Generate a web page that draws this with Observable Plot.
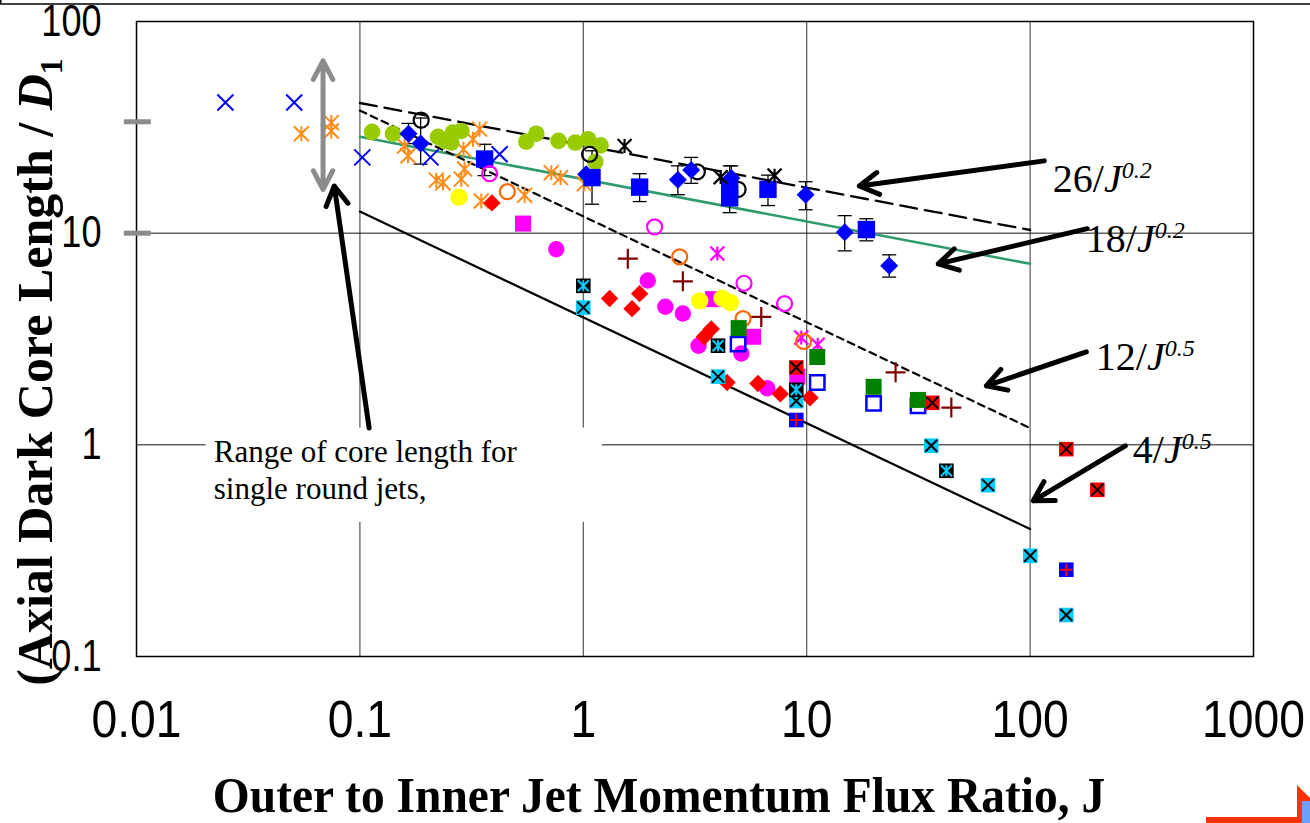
<!DOCTYPE html>
<html>
<head>
<meta charset="utf-8">
<script src="https://cdn.jsdelivr.net/npm/d3@7"></script>
<script src="https://cdn.jsdelivr.net/npm/@observablehq/plot@0.6"></script>
<style>
  html, body { margin: 0; padding: 0; background: #fff; }
  #chart svg { display: block; }
</style>
</head>
<body>
<div id="chart"></div>
<script>
// ---------- axis ticks ----------
const xTicks = [0.01, 0.1, 1, 10, 100, 1000];
const xTickLabels = ["0.01", "0.1", "1", "10", "100", "1000"];
const yTicks = [0.1, 1, 10, 100];
const yTickLabels = ["0.1", "1", "10", "100"];
const gridX = [0.1, 1, 10, 100];
const gridY = [1, 10];

// ---------- correlations  L/D1 = a / J^b ----------
const fitCoef = [26, 18, 12, 4];
const fitExp = [0.2, 0.2, 0.5, 0.5];
const fitRange = [0.1, 100];

// ---------- data series  [J, L/D1] ----------
const blueCross = [[0.025, 41.4], [0.0508, 41.4], [0.1025, 22.8], [0.207, 22.8], [0.422, 23.6]];
const orangeStar = [[0.0547, 29.5], [0.0745, 33.3], [0.0745, 30.4], [0.1585, 25.8], [0.1642, 23.2],
  [0.2198, 17.8], [0.2355, 17.3], [0.2844, 18.0], [0.294, 20.1], [0.291, 24.9], [0.3208, 27.8],
  [0.3434, 31.0], [0.3495, 14.2], [0.546, 15.1], [0.719, 19.3], [0.791, 18.3], [1.01, 17.1]];
const limeDot = [[0.1133, 30.1], [0.1406, 29.5], [0.2237, 28.5], [0.2394, 27.3], [0.261, 29.9],
  [0.2844, 30.4], [0.2566, 26.8], [0.5557, 27.1], [0.6163, 29.5], [0.775, 27.3], [0.921, 26.8],
  [1.05, 27.8], [1.195, 26.0], [1.132, 21.7]];
// [J, L, low, high]
const blueDiamond = [[0.165, 29.5, 26.5, 33], [0.187, 26.5, 21.2, 35], [1.03, 19.0, null, null],
  [2.65, 17.9, 15.2, 20.8], [3.04, 19.9, 17.2, 22.8], [4.60, 18.2, 16.5, 20.8], [9.89, 15.2, 12.9, 17.5],
  [14.8, 10.1, 8.25, 12.1], [23.4, 7.01, 6.2, 7.9]];
const blueSquare = [[0.3616, 22.4, 18.7, 26.3], [1.094, 18.3, 13.7, 24.5], [1.787, 16.5, 14.1, 19.1],
  [4.52, 14.7, 12.5, 20.8], [4.52, 16.7, null, null], [6.71, 16.1, 13.5, 18.8], [18.5, 10.4, 9.2, 11.7]];
const blackRing = [[0.188, 34.2], [1.067, 23.6], [3.24, 19.5], [4.93, 16.1]];
const blackStar = [[1.53, 25.8], [4.12, 18.4], [7.18, 18.7]];
const magentaRing = [[0.3807, 19.1], [2.085, 10.7], [5.24, 5.80], [7.96, 4.65]];
const magentaStar = [[3.98, 8.01], [9.46, 3.21], [11.2, 2.97]];
const orangeRing = [[0.457, 15.7], [2.70, 7.73], [5.19, 3.95], [9.69, 3.08]];
const pinkSquare = [[0.537, 11.1], [3.81, 4.88], [5.75, 3.24], [9.08, 2.10]];
const magentaDot = [[0.757, 8.40], [1.944, 5.98], [2.33, 4.49], [2.79, 4.17], [3.28, 2.94], [5.10, 2.70], [6.66, 1.85]];
const yellowDot = [[0.2778, 14.8], [3.32, 4.79], [4.18, 4.93], [4.56, 4.70]];
const redDiamond = [[0.390, 13.9], [1.311, 4.91], [1.787, 5.18], [1.652, 4.40], [3.48, 3.24], [3.74, 3.53],
  [4.40, 1.97], [6.05, 1.95], [7.62, 1.74], [10.35, 1.67]];
const maroonPlus = [[1.582, 7.58], [2.79, 5.92], [6.26, 4.02], [25.0, 2.20], [44.4, 1.50]];
const greenSquare = [[4.96, 3.56], [11.15, 2.60], [19.93, 1.88], [31.5, 1.63]];
const blueOpenSquare = [[4.93, 2.99], [11.15, 1.97], [19.93, 1.57], [31.5, 1.53]];
const cyanCross = [[1.0, 4.45], [4.01, 2.10], [8.98, 1.61], [36.1, 0.99], [64.8, 0.645], [100.2, 0.299], [145.2, 0.157]];
const blackCyanStar = [[1.0, 5.64], [4.01, 2.94], [8.98, 1.82], [42.2, 0.754]];
const redCross = [[8.98, 2.32], [36.5, 1.58], [145.2, 0.954], [200, 0.613]];
const bluePlus = [[8.98, 1.31], [145.2, 0.257]];

// single round jet core-length range
const singleJetJ = [0.0684];
const singleJetRange = [16.1, 65.2];
const singleJetMarks = [33.6, 10];

// ---------- annotations (data coordinates) ----------
const fitLabelAt = [[127, 15.5], [178.5, 8.07], [197.8, 2.24], [289.7, 0.813]];
const fitArrowFrom = [[115.8, 21.96], [180.3, 10.5], [178.5, 2.75], [266.8, 0.989]];
const fitArrowTo = [[17.2, 16.7], [38.8, 7.16], [63.7, 1.90], [103.3, 0.544]];
const noteLines = ["Range of core length for", "single round jets,"];
const noteAt = [[0.0223, 0.822], [0.0223, 0.55]];
const noteBoxJ = [0.0205, 1.216];
const noteBoxL = [0.43, 1.2];
const noteArrowFrom = [0.110, 1.20];
const noteArrowTo = [0.0768, 16.7];
const xTitle = "Outer to Inner Jet Momentum Flux Ratio, J";

// ---------- symbols ----------
const rr = s => Math.sqrt(s / Math.PI);
const sym = {
  square: {draw(c, s) { const r = rr(s); c.rect(-r, -r, 2 * r, 2 * r); }},
  diamond: {draw(c, s) { const r = rr(s); c.moveTo(0, -r); c.lineTo(r, 0); c.lineTo(0, r); c.lineTo(-r, 0); c.closePath(); }},
  cross: {draw(c, s) { const r = rr(s); c.moveTo(-r, -r); c.lineTo(r, r); c.moveTo(-r, r); c.lineTo(r, -r); }},
  star: {draw(c, s) { const r = rr(s); c.moveTo(-r, -r); c.lineTo(r, r); c.moveTo(-r, r); c.lineTo(r, -r); c.moveTo(0, -r); c.lineTo(0, r); }},
  plus: {draw(c, s) { const r = rr(s); c.moveTo(-r, 0); c.lineTo(r, 0); c.moveTo(0, -r); c.lineTo(0, r); }},
  cap: {draw(c, s) { const r = rr(s); c.moveTo(-r, 0); c.lineTo(r, 0); }}
};
const X = d => d[0], Y = d => d[1];
const dot = (data, o) => Plot.dot(data, {x: X, y: Y, fill: "none", stroke: "none", ...o});

const fitLines = fitCoef.map((a, i) => fitRange.map(J => ({J, L: a / Math.pow(J, fitExp[i])})));
const bars = [...blueDiamond, ...blueSquare].filter(d => d[2] != null);
const fitArrows = fitArrowFrom.map((f, i) => ({x1: f[0], y1: f[1], x2: fitArrowTo[i][0], y2: fitArrowTo[i][1]}));
const rangeArrows = [
  {x1: singleJetJ[0], y1: Math.sqrt(singleJetRange[0] * singleJetRange[1]), x2: singleJetJ[0], y2: singleJetRange[1]},
  {x1: singleJetJ[0], y1: Math.sqrt(singleJetRange[0] * singleJetRange[1]), x2: singleJetJ[0], y2: singleJetRange[0]}
];

const plot = Plot.plot({
  width: 1310,
  height: 823,
  marginLeft: 136,
  marginRight: 57,
  marginTop: 21,
  marginBottom: 167,
  x: {type: "log", domain: [0.01, 1000]},
  y: {type: "log", domain: [0.1, 100]},
  style: {fontFamily: "Liberation Sans", background: "white", overflow: "visible"},
  marks: [
    Plot.ruleX(gridX, {stroke: "#555", strokeWidth: 1.2}),
    Plot.ruleY(gridY, {stroke: "#111", strokeWidth: 1}),
    Plot.rect([0], {x1: noteBoxJ[0], x2: noteBoxJ[1], y1: noteBoxL[0], y2: noteBoxL[1], fill: "white"}),
    Plot.line(fitLines[0], {x: "J", y: "L", stroke: "black", strokeWidth: 2.3, strokeDasharray: "17,8"}),
    Plot.line(fitLines[1], {x: "J", y: "L", stroke: "#2f9a6c", strokeWidth: 2.5}),
    Plot.line(fitLines[2], {x: "J", y: "L", stroke: "black", strokeWidth: 2.2, strokeDasharray: "7,5"}),
    Plot.line(fitLines[3], {x: "J", y: "L", stroke: "black", strokeWidth: 2.2}),
    Plot.ruleX(bars, {x: X, y1: d => d[2], y2: d => d[3], stroke: "black", strokeWidth: 1.3}),
    dot(bars, {y: d => d[2], symbol: sym.cap, r: 7, stroke: "black", strokeWidth: 1.3}),
    dot(bars, {y: d => d[3], symbol: sym.cap, r: 7, stroke: "black", strokeWidth: 1.3}),
    dot(orangeStar, {symbol: sym.star, r: 7.5, stroke: "#ff8c1a", strokeWidth: 2}),
    dot(blueCross, {symbol: sym.cross, r: 8, stroke: "#0000ff", strokeWidth: 2}),
    dot(limeDot, {symbol: "circle", r: 8.3, fill: "#99cc00"}),
    dot(blackRing, {symbol: "circle", r: 7.5, stroke: "black", strokeWidth: 2.2}),
    dot(blueDiamond, {symbol: sym.diamond, r: 9, fill: "#0000ff"}),
    dot(blueSquare, {symbol: sym.square, r: 8.7, fill: "#0000ff"}),
    dot(blackStar, {symbol: sym.star, r: 7, stroke: "black", strokeWidth: 2.2}),
    dot(magentaRing, {symbol: "circle", r: 7.5, stroke: "#ff00ff", strokeWidth: 2.2}),
    dot(magentaStar, {symbol: sym.star, r: 7, stroke: "#ff00ff", strokeWidth: 2.2}),
    dot(orangeRing, {symbol: "circle", r: 7.5, stroke: "#ff6600", strokeWidth: 2.2}),
    dot(pinkSquare, {symbol: sym.square, r: 8, fill: "#ff00ff"}),
    dot(magentaDot, {symbol: "circle", r: 8.2, fill: "#ff00ff"}),
    dot(yellowDot, {symbol: "circle", r: 8.7, fill: "#ffff00"}),
    dot(redDiamond, {symbol: sym.diamond, r: 8.7, fill: "#ff0000"}),
    dot(maroonPlus, {symbol: sym.plus, r: 10, stroke: "#800000", strokeWidth: 2.2}),
    dot(blueOpenSquare, {symbol: sym.square, r: 7.2, stroke: "#0000ff", strokeWidth: 2.5}),
    dot(greenSquare, {symbol: sym.square, r: 8, fill: "#008000"}),
    dot(cyanCross, {symbol: sym.square, r: 7.3, fill: "#00ccff"}),
    dot(cyanCross, {symbol: sym.cross, r: 6, stroke: "black", strokeWidth: 2}),
    dot(blackCyanStar, {symbol: sym.square, r: 7.3, fill: "black"}),
    dot(blackCyanStar, {symbol: sym.star, r: 5.5, stroke: "#00ccff", strokeWidth: 2}),
    dot(redCross, {symbol: sym.square, r: 7.3, fill: "#ff0000"}),
    dot(redCross, {symbol: sym.cross, r: 6, stroke: "black", strokeWidth: 2}),
    dot(bluePlus, {symbol: sym.square, r: 7.3, fill: "#0000ff"}),
    dot(bluePlus, {symbol: sym.plus, r: 6.3, stroke: "#ff0000", strokeWidth: 2}),
    Plot.arrow(rangeArrows, {x1: "x1", y1: "y1", x2: "x2", y2: "y2", stroke: "#8c8c8c", strokeWidth: 5, headLength: 6.3, headAngle: 55}),
    Plot.arrow(fitArrows, {x1: "x1", y1: "y1", x2: "x2", y2: "y2", stroke: "black", strokeWidth: 5, headLength: 6.6, headAngle: 60}),
    Plot.arrow([0], {x1: noteArrowFrom[0], y1: noteArrowFrom[1], x2: noteArrowTo[0], y2: noteArrowTo[1], stroke: "black", strokeWidth: 5, headLength: 6.6, headAngle: 60}),
    Plot.frame({stroke: "black", strokeWidth: 1.5}),
    Plot.ruleY(singleJetMarks, {x1: 0.00882, x2: 0.01165, stroke: "#8c8c8c", strokeWidth: 5}),
    Plot.axisX(xTicks, {tickSize: 0, tickPadding: 44, fontSize: 52, fontFamily: "Liberation Sans", tickFormat: d => xTickLabels[xTicks.indexOf(d)], label: null}),
    Plot.axisY(yTicks, {tickSize: 0, tickPadding: 35, fontSize: 44, fontFamily: "Liberation Sans", tickFormat: d => yTickLabels[yTicks.indexOf(d)], label: null})
  ]
});

document.getElementById("chart").append(plot);

const svg = d3.select(plot);
const squeeze = (sel, k) => sel.each(function () {
  const t = this.getAttribute("transform") || "";
  this.setAttribute("transform", t + ` scale(${k},1)`);
});
squeeze(svg.selectAll('g[aria-label="x-axis tick label"] text'), 0.89);
squeeze(svg.selectAll('g[aria-label="y-axis tick label"] text'), 0.82);

const sx = plot.scale("x"), sy = plot.scale("y");
const px = v => sx.apply(v), py = v => sy.apply(v);

// correlation labels
const ann = svg.append("g")
  .attr("font-family", "Liberation Serif")
  .attr("text-anchor", "start")
  .attr("fill", "black");
fitCoef.forEach((a, i) => {
  const t = ann.append("text")
    .attr("x", px(fitLabelAt[i][0]))
    .attr("y", py(fitLabelAt[i][1]))
    .attr("font-size", 40);
  t.append("tspan").text(`${a}/`);
  t.append("tspan").attr("font-style", "italic").text("J");
  t.append("tspan").attr("font-style", "italic").attr("font-size", 24).attr("dy", -14).text(String(fitExp[i]));
});

// note text
noteLines.forEach((s, i) => {
  ann.append("text")
    .attr("x", px(noteAt[i][0]))
    .attr("y", py(noteAt[i][1]))
    .attr("font-size", 31)
    .text(s);
});

// axis titles
const yt = svg.append("text")
  .attr("transform", "translate(52,372) rotate(-90)")
  .attr("text-anchor", "middle")
  .attr("font-family", "Liberation Serif")
  .attr("font-weight", "bold")
  .attr("font-size", 50)
  .attr("fill", "black");
yt.append("tspan").text("(Axial Dark Core Length / ");
yt.append("tspan").attr("font-style", "italic").text("D");
yt.append("tspan").attr("font-size", 32).attr("dy", 10).text("1");

svg.append("text")
  .attr("transform", "translate(659,812) scale(0.95,1)")
  .attr("text-anchor", "middle")
  .attr("font-family", "Liberation Serif")
  .attr("font-weight", "bold")
  .attr("font-size", 50)
  .attr("fill", "black")
  .text(xTitle);

// page decorations (cropped slide edges)
svg.append("line").attr("x1", 0).attr("x2", 1310).attr("y1", 4).attr("y2", 4).attr("stroke", "black").attr("stroke-width", 1.5);
svg.append("line").attr("x1", 0.75).attr("x2", 0.75).attr("y1", 0).attr("y2", 4).attr("stroke", "black").attr("stroke-width", 1.5);
svg.append("rect").attr("x", 1206).attr("y", 817).attr("width", 94).attr("height", 6).attr("fill", "#ff3300");
svg.append("path").attr("d", "M1297,785 L1310,798 L1310,823 L1297,823 Z").attr("fill", "#ff3300");
svg.append("path").attr("d", "M1302,801 L1310,801 L1310,823 L1302,823 Z").attr("fill", "#6f9fff");
</script>
</body>
</html>
